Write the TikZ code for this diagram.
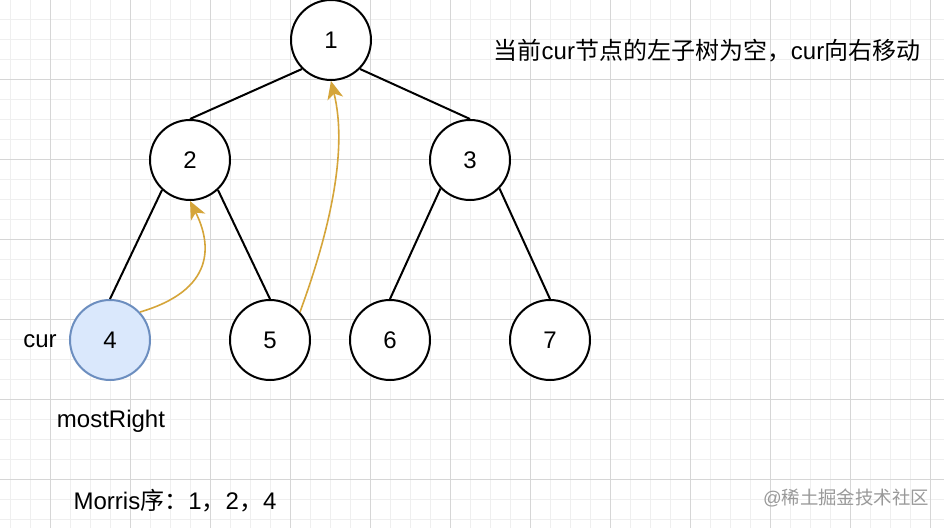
\documentclass[tikz,border=0pt]{standalone}
\usepackage{fontspec}
\setmainfont{Liberation Sans}
\newfontfamily\cjk{Noto Sans CJK SC}
\usetikzlibrary{arrows.meta}
\definecolor{gridminor}{HTML}{EFEFEF}
\definecolor{gridmajor}{HTML}{D6D6D6}
\definecolor{curfill}{HTML}{DAE8FC}
\definecolor{curdraw}{HTML}{6C8EBF}
\definecolor{thread}{HTML}{D5A53A}
\begin{document}
\begin{tikzpicture}[x=0.5pt, y=-0.5pt,
    every node/.style={font=\fontsize{12}{14}\selectfont},
    treenode/.style={circle, draw=black, line width=1pt, fill=white, minimum size=40pt, inner sep=0pt},
    edge/.style={line width=1pt},
    threadarrow/.style={thread, line width=0.8pt, -{Stealth[length=9pt, width=8pt, inset=2.5pt]}}]
    \useasboundingbox (0,0) rectangle (944,528);
    \fill[white] (0,0) rectangle (944,528);
    \foreach \x in {10,30,...,930} \draw[gridminor, line width=0.5pt] (\x,0) -- (\x,528);
    \foreach \y in {20,40,...,520} \draw[gridminor, line width=0.5pt] (0,\y) -- (944,\y);
    \foreach \x in {50,130,...,930} \draw[gridmajor, line width=0.5pt] (\x,0) -- (\x,528);
    \foreach \y in {0,80,...,480} \draw[gridmajor, line width=0.5pt] (0,\y) -- (944,\y);
    \node[treenode] (n1) at (331,40) {1};
    \node[treenode] (n2) at (190,160) {2};
    \node[treenode] (n3) at (470,160) {3};
    \node[treenode, fill=curfill, draw=curdraw] (n4) at (110,340) {4};
    \node[treenode] (n5) at (270,340) {5};
    \node[treenode] (n6) at (390,340) {6};
    \node[treenode] (n7) at (550,340) {7};
    \draw[edge] (n1.225) -- (n2.north);
    \draw[edge] (n1.315) -- (n3.north);
    \draw[edge] (n2.227) -- (n4.north);
    \draw[edge] (n2.313) -- (n5.north);
    \draw[edge] (n3.224) -- (n6.north);
    \draw[edge] (n3.316) -- (n7.north);
    \draw[threadarrow] (n4.43) .. controls (215,290) and (212,245) .. (n2.south);
    \draw[threadarrow] (n5.43) .. controls (330,230) and (348,150) .. (n1.south);
    \node (curlabel) at (40,341) {cur};
    \node (mostright) at (111,421) {mostRight};
    \node (order) at (175,501) {Morris{\cjk 序：}1{\cjk ，}2{\cjk ，}4};
    \node (note) at (707,51) {{\cjk 当前}cur{\cjk 节点的左子树为空，}cur{\cjk 向右移动}};
    \node[black!40, font=\fontsize{9.2}{11}\selectfont] (mark) at (846,498) {@{\cjk 稀土掘金技术社区}};
\end{tikzpicture}
\end{document}
